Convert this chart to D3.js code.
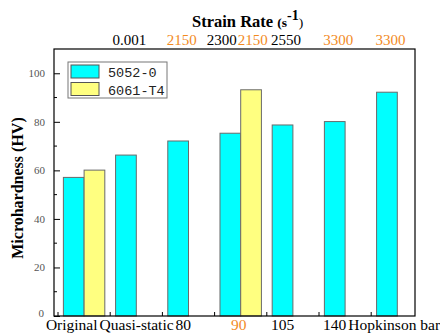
<!DOCTYPE html>
<html><head><meta charset="utf-8">
<script src="https://cdn.jsdelivr.net/npm/d3@7"></script>
<style>body{margin:0;background:#fff}svg{display:block}</style>
</head><body>
<svg id="c" width="440" height="336"></svg>
<script>
const categories = ["Original","Quasi-static","80","90","105","140","Hopkinson bar"];
const seriesNames = ["5052-0","6061-T4"];
const values5052 = [57.1, 66.3, 72.1, 75.3, 78.7, 80.1, 92.2];
const values6061 = [60.1, null, null, 93.2, null, null, null];
const strainRate5052 = [null, "0.001", "2150", "2300", "2550", "3300", "3300"];
const strainRate6061 = [null, null, null, "2150", null, null, null];
const hl5052 = [false, false, true, false, false, true, true];
const hl6061 = [false, false, false, true, false, false, false];
const catHighlight = [false, false, false, true, false, false, false];
const yTicks = [0,20,40,60,80,100];

const svg = d3.select("#c");
const L = 54, R = 415, T = 49, B = 316;
const serif = "'Liberation Serif','Times New Roman',serif";
const orange = "#f28a1e";
const colors = ["#00ffff", "#ffff80"];

const x = d3.scaleBand().domain(categories).range([58, 58 + 7*52.2]).padding(0);
const xs = d3.scaleBand().domain(seriesNames).range([0, x.bandwidth()]).paddingInner(0).paddingOuter(0.26);
const y = d3.scaleLinear().domain([0, 110]).range([B, T]);

// bars
const series = [values5052, values6061];
series.forEach((vals, si) => {
  svg.append("g").selectAll("rect").data(categories.map((c,i)=>({c, v: vals[i]})).filter(d=>d.v!=null))
    .join("rect")
    .attr("x", d => x(d.c) + xs(seriesNames[si]))
    .attr("y", d => y(d.v))
    .attr("width", xs.bandwidth())
    .attr("height", d => B - y(d.v))
    .attr("fill", colors[si])
    .attr("stroke", "#6a6a6a").attr("stroke-width", 1);
});

// frame
svg.append("rect").attr("x", L).attr("y", T).attr("width", R-L).attr("height", B-T)
  .attr("fill","none").attr("stroke","#000").attr("stroke-width",1.2);

// y axis major ticks
const yAxis = svg.append("g").attr("transform", `translate(${L},0)`)
  .call(d3.axisLeft(y).tickValues(yTicks).tickSize(-6).tickPadding(9));
yAxis.select(".domain").remove();
yAxis.selectAll("text").attr("font-family", serif).attr("font-size", 11).attr("fill", "#555");
yAxis.selectAll(".tick line").attr("stroke","#000");
yAxis.selectAll(".tick").filter(d=>d===0).select("text").attr("dy","0em").attr("x",-10);
// minor ticks
svg.append("g").selectAll("line").data(d3.range(10, 110, 20)).join("line")
  .attr("x1", L).attr("x2", L+3).attr("y1", d=>y(d)).attr("y2", d=>y(d)).attr("stroke","#000");

// x ticks (inward)
svg.append("g").selectAll("line").data(categories).join("line")
  .attr("x1", d=>x(d)).attr("x2", d=>x(d)).attr("y1", B).attr("y2", B-4).attr("stroke","#000");

// bottom category labels, pushed right to avoid overlap
const centers = categories.map((c,i) => {
  const x0 = x(c) + xs(seriesNames[0]);
  return values6061[i]!=null && i>0 ? x0 + xs.bandwidth() - 2 : x0 + xs.bandwidth()/2 - (i===0?2:0);
});
const bl = svg.append("g").selectAll("text").data(categories).join("text")
  .attr("y", 330).attr("text-anchor","middle")
  .attr("font-family", serif).attr("font-size", 15.5)
  .attr("fill", (d,i)=>catHighlight[i]?orange:"#000")
  .text(d=>d);
const widths = bl.nodes().map(n=>n.getComputedTextLength());
const pos = centers.slice();
for (let i=0;i<pos.length-1;i++){
  const ov = (pos[i]+widths[i]/2) + 2 - (pos[i+1]-widths[i+1]/2);
  if (ov>0){ pos[i+1]+=ov; }
}
bl.attr("x",(d,i)=>pos[i]);

// top strain rate labels
const topG = svg.append("g").attr("font-family", serif).attr("font-size", 15);
categories.forEach((c,i) => {
  const cx0 = x(c) + xs(seriesNames[0]) + xs.bandwidth()/2;
  const cx1 = x(c) + xs(seriesNames[1]) + xs.bandwidth()/2;
  const both = strainRate5052[i] && strainRate6061[i];
  if (strainRate5052[i]) {
    topG.append("text").attr("y", 45)
      .attr("x", both ? x(c) + xs(seriesNames[1]) - 4 : cx0 + 3.5)
      .attr("text-anchor", both ? "end" : "middle")
      .attr("fill", hl5052[i]?orange:"#000").text(strainRate5052[i]);
  }
  if (strainRate6061[i]) {
    topG.append("text").attr("y", 45)
      .attr("x", both ? x(c) + xs(seriesNames[1]) - 3 : cx1)
      .attr("text-anchor", both ? "start" : "middle")
      .attr("fill", hl6061[i]?orange:"#000").text(strainRate6061[i]);
  }
});

// top title
const tt = svg.append("text").attr("x", 192).attr("y", 27).attr("font-family", serif).attr("font-weight","bold");
tt.append("tspan").attr("font-size", 16.5).text("Strain Rate ");
tt.append("tspan").attr("font-size", 13.5).text("(s");
tt.append("tspan").attr("font-size", 14).attr("dy", -7).text("-1");
tt.append("tspan").attr("font-size", 13.5).attr("font-weight","normal").attr("dy", 7).text(")");

// y title
svg.append("text").attr("transform", "translate(23,188) rotate(-90)")
  .attr("text-anchor","middle").attr("font-family", serif).attr("font-weight","bold")
  .attr("font-size", 16).text("Microhardness (HV)");

// legend
const lg = svg.append("g");
lg.append("rect").attr("x",68).attr("y",62).attr("width",99).attr("height",36)
  .attr("fill","#fff").attr("stroke","#777").attr("stroke-width",1);
seriesNames.forEach((s,i)=>{
  lg.append("rect").attr("x",71).attr("y",65+i*17.5).attr("width",28).attr("height",13)
    .attr("fill",colors[i]).attr("stroke","#555").attr("stroke-width",1);
  lg.append("text").attr("x",108).attr("y",77+i*17.5)
    .attr("font-family","'Liberation Mono','DejaVu Sans Mono',monospace").attr("font-size",13.5)
    .attr("fill","#222").text(s);
});
</script>
</body></html>
